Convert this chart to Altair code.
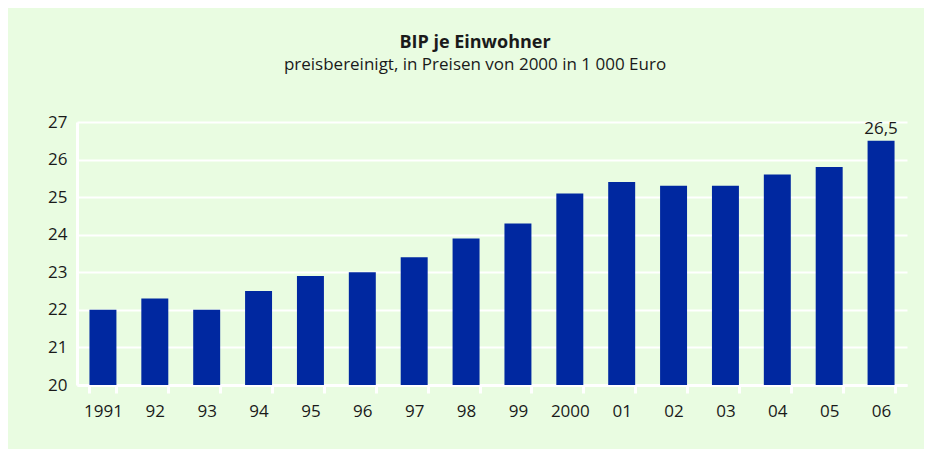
import altair as alt
import pandas as pd

years = ["1991", "92", "93", "94", "95", "96", "97", "98", "99", "2000",
         "01", "02", "03", "04", "05", "06"]
values = [22.0, 22.3, 22.0, 22.5, 22.9, 23.0, 23.4, 23.9, 24.3, 25.1,
          25.4, 25.3, 25.3, 25.6, 25.8, 26.5]
labelled = ["06"]
y_ticks = [20, 21, 22, 23, 24, 25, 26, 27]

df = pd.DataFrame({"Jahr": years, "BIP": values})
df["Label"] = [f"{v:.1f}".replace(".", ",") if y in labelled else "" for y, v in zip(years, values)]

FONT = "Open Sans"
TEXT = "#1a1a1a"
BG = "#E9FCE1"
BAR = "#0028A0"

x_axis = alt.Axis(labelAngle=0, domain=True, domainColor="white", domainWidth=3,
                  ticks=True, tickColor="#ffffff", tickWidth=3, tickSize=8,
                  tickOpacity=1, tickBand="extent", labelPadding=10, grid=False,
                  labelFont=FONT, labelFontSize=17, labelColor=TEXT)
y_axis = alt.Axis(values=y_ticks, domain=True, domainColor="white", domainWidth=3,
                  ticks=False, labelPadding=10, grid=True, gridColor="white",
                  gridWidth=2, gridOpacity=1, labelOverlap=False,
                  labelFont=FONT, labelFontSize=17, labelColor=TEXT)
x_scale = alt.Scale(paddingInner=0.48, paddingOuter=0.24)
y_scale = alt.Scale(domain=[20, 27], zero=False, nice=False)

base = alt.Chart(df)

bars = base.mark_bar(color=BAR).encode(
    x=alt.X("Jahr:N", sort=years, title=None, scale=x_scale, axis=x_axis),
    y=alt.Y("BIP:Q", title=None, scale=y_scale, axis=y_axis),
    y2=alt.datum(20),
)

text = base.transform_filter(alt.datum.Label != "").mark_text(
    font=FONT, fontSize=17, color=TEXT, baseline="bottom", dy=-3
).encode(
    x=alt.X("Jahr:N", sort=years, title=None, scale=x_scale, axis=x_axis),
    y=alt.Y("BIP:Q", title=None, scale=y_scale, axis=y_axis),
    text="Label:N",
)

chart = alt.layer(bars, text).properties(
    width=830,
    height=263,
    background=BG,
    autosize=alt.AutoSizeParams(type="none"),
    padding={"left": 69, "top": 114, "right": 17, "bottom": 64},
    title=alt.TitleParams(
        text="BIP je Einwohner",
        subtitle="preisbereinigt, in Preisen von 2000 in 1 000 Euro",
        anchor="middle", dx=-17, offset=40,
        font=FONT, fontSize=18, fontWeight="bold", color=TEXT,
        subtitleFont=FONT, subtitleFontSize=17, subtitleColor=TEXT,
        subtitlePadding=5,
    ),
).configure_view(stroke=None)

chart.save("out.html", embed_options={"renderer": "svg", "actions": False})
